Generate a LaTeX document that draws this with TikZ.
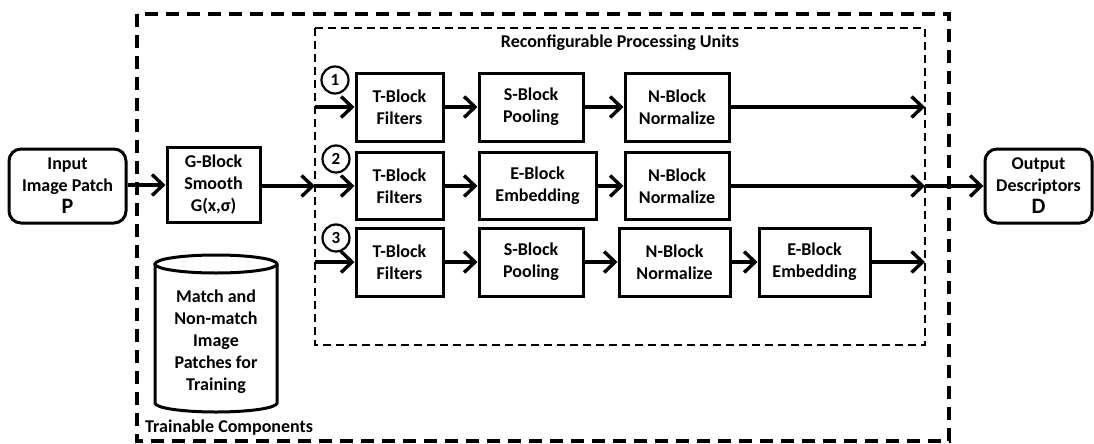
\documentclass[tikz,border=0pt]{standalone}
\usepackage{fontspec}
\setmainfont{Carlito}
\usetikzlibrary{arrows.meta}
\begin{document}
\begin{tikzpicture}[x=1pt,y=-1pt,
  every node/.style={font=\fontsize{18}{22}\selectfont\bfseries, text=black},
  blk/.style={draw, line width=3pt, align=center, inner sep=0pt, minimum height=68pt},
  term/.style={blk, rounded corners=12pt, minimum height=74pt},
  num/.style={draw, circle, line width=2.2pt, minimum size=27pt, inner sep=0pt,
    font=\fontsize{17}{17}\selectfont\bfseries},
  flow/.style={line width=3.4pt, -{Straight Barb[length=11pt,width=21pt]}},
  outerdash/.style={line width=3.2pt, dash pattern=on 13pt off 8pt},
  innerdash/.style={line width=2.2pt, dash pattern=on 8pt off 5pt},
  lbl/.style={inner sep=0pt},
]
\useasboundingbox (0,0) rectangle (1094,444);

% dashed groupings
\draw[outerdash] (137,14) rectangle (949,441);
\draw[innerdash] (315,28) rectangle (925,345);
\node[lbl] (rpu) at (620,43) {Reconfigurable Processing Units};
\node[lbl, anchor=west] (train) at (145,428) {Trainable Components};

% input, smoothing, output
\node[term, minimum width=117pt] (in) at (67.5,186)
  {Input\\Image Patch\\{\fontsize{22}{24}\selectfont P}};
\node[blk, minimum width=93pt, minimum height=75pt] (g) at (213.5,185)
  {G-Block\\Smooth\\G(x,σ)};
\node[term, minimum width=107pt] (out) at (1038.5,186)
  {Output\\Descriptors\\{\fontsize{22}{24}\selectfont D}};

% training database
\draw[line width=3pt] (155,264) -- (155,403)
  arc[start angle=180, end angle=0, x radius=61, y radius=9] -- (277,264);
\draw[line width=3pt] (216,264) ellipse [x radius=61, y radius=9];
\node[lbl, align=center] (db) at (216,342)
  {Match and\\Non-match\\Image\\Patches for\\Training};

% row 1
\node[blk, minimum width=87pt] (t1) at (399.5,107) {T-Block\\Filters};
\node[blk, minimum width=104pt] (s1) at (531,107) {S-Block\\Pooling};
\node[blk, minimum width=104pt] (n1) at (677,107) {N-Block\\Normalize};
% row 2
\node[blk, minimum width=87pt, minimum height=67pt] (t2) at (399.5,186) {T-Block\\Filters};
\node[blk, minimum width=117pt, minimum height=67pt] (e2) at (537.5,186) {E-Block\\Embedding};
\node[blk, minimum width=104pt, minimum height=67pt] (n2) at (677,186) {N-Block\\Normalize};
% row 3
\node[blk, minimum width=87pt] (t3) at (399.5,262) {T-Block\\Filters};
\node[blk, minimum width=104pt] (s3) at (531,262) {S-Block\\Pooling};
\node[blk, minimum width=111pt] (n3) at (674.5,262) {N-Block\\Normalize};
\node[blk, minimum width=111pt] (e3) at (814.5,262) {E-Block\\Embedding};

% unit numbers
\node[num] (c1) at (335,80) {1};
\node[num] (c2) at (336,159) {2};
\node[num] (c3) at (336,238) {3};

% entry and exit points on the unit frame
\coordinate (a1) at (315,107);
\coordinate (a2) at (315,186);
\coordinate (a3) at (315,262);
\coordinate (b1) at (925,107);
\coordinate (b2) at (925,186);
\coordinate (b3) at (925,262);

% connectors
\draw[flow] (in.east |- g) -- (g.west);
\draw[flow] (g.east |- a2) -- (a2);
\draw[flow] (a1) -- (t1.west);
\draw[flow] (a2) -- (t2.west);
\draw[flow] (a3) -- (t3.west);
\draw[flow] (t1) -- (s1);
\draw[flow] (s1) -- (n1);
\draw[flow] (t2) -- (e2);
\draw[flow] (e2) -- (n2);
\draw[flow] (t3) -- (s3);
\draw[flow] (s3) -- (n3);
\draw[flow] (n3) -- (e3);
\draw[flow] (n1.east) -- (b1);
\draw[flow] (n2.east) -- (b2);
\draw[flow] (e3.east) -- (b3);
\draw[flow] (b2) -- (out.west);
\end{tikzpicture}
\end{document}
